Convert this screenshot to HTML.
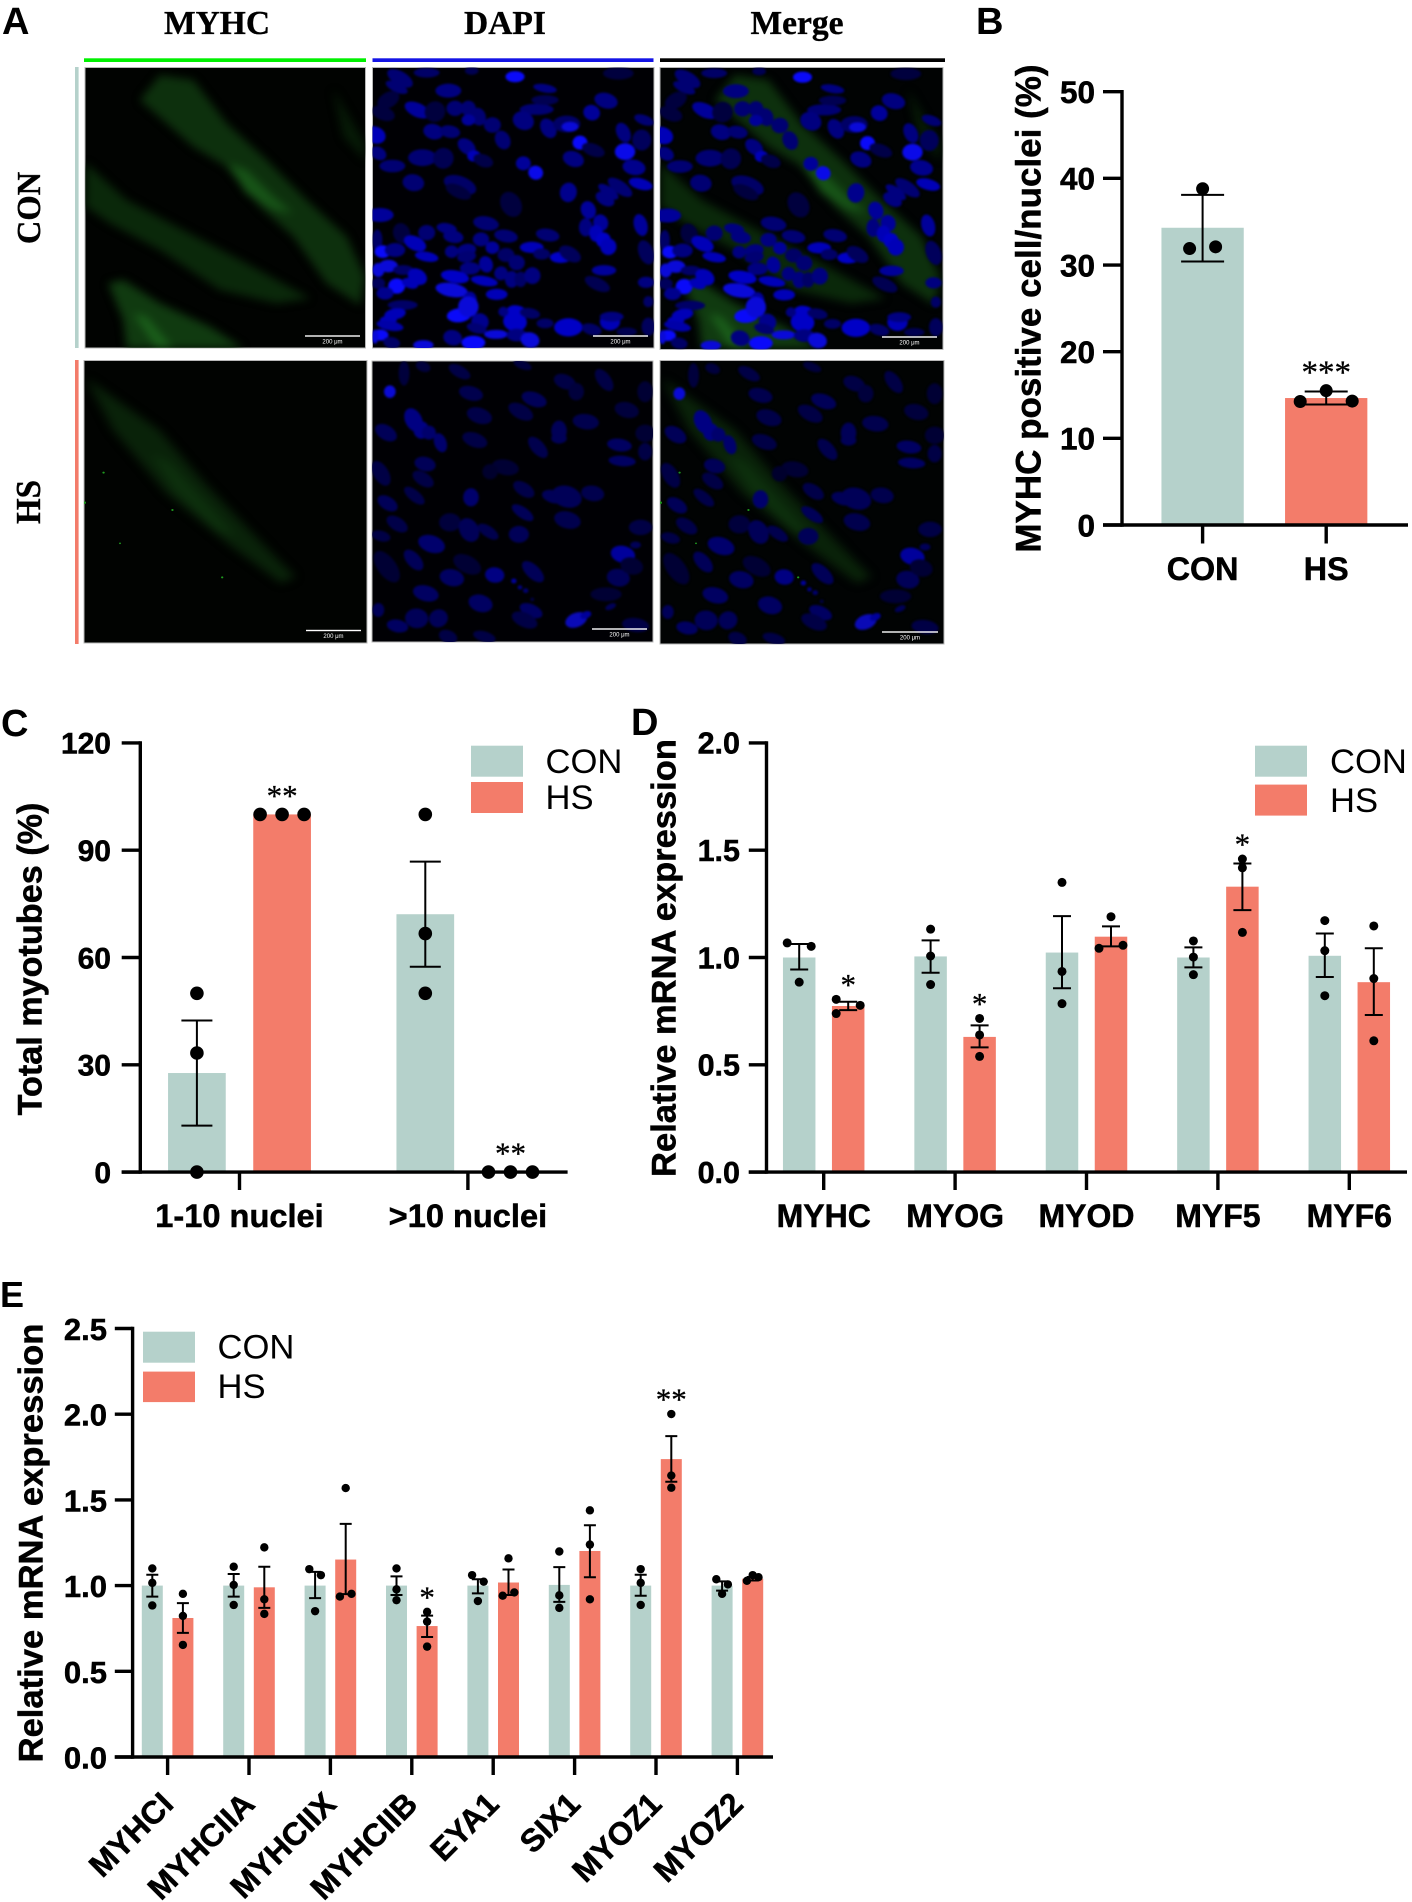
<!DOCTYPE html>
<html lang="en">
<head>
<meta charset="utf-8">
<title>MYHC figure</title>
<style>
html,body{margin:0;padding:0;background:#fff;}
svg{display:block;}
text{font-family:"Liberation Sans",Arial,sans-serif;fill:#000;}
.serif{font-family:"Liberation Serif","Times New Roman",serif;font-weight:bold;stroke:#000;stroke-width:.35px;}
.letter{font-weight:bold;font-size:38px;}
.legend{font-size:34.6px;}
.title{font-weight:bold;font-size:34.3px;stroke:#000;stroke-width:.5px;}
text[font-weight="bold"]{stroke:#000;stroke-width:.5px;}
.scale{font-size:6px;fill:#fff;font-family:"Liberation Sans","DejaVu Sans",sans-serif;}
</style>
</head>
<body>
<svg id="fig" xmlns="http://www.w3.org/2000/svg" width="1412" height="1902" viewBox="0 0 1412 1902">
<defs>
<filter id="soft" x="-5%" y="-5%" width="110%" height="110%" color-interpolation-filters="sRGB"><feGaussianBlur stdDeviation="3"/></filter>
<filter id="glow" x="-20%" y="-20%" width="140%" height="140%" color-interpolation-filters="sRGB"><feGaussianBlur stdDeviation="13"/></filter>
<clipPath id="clip-a1"><rect x="85" y="67.5" width="280.5" height="280.5"/></clipPath>
<clipPath id="clip-a2"><rect x="372.5" y="67.5" width="281.5" height="280.5"/></clipPath>
<clipPath id="clip-a3"><rect x="660" y="67.5" width="283" height="282"/></clipPath>
<clipPath id="clip-a4"><rect x="84" y="360.5" width="283" height="282.5"/></clipPath>
<clipPath id="clip-a5"><rect x="372" y="361" width="281" height="281"/></clipPath>
<clipPath id="clip-a6"><rect x="660" y="360.5" width="284" height="283.5"/></clipPath>
<g id="fibers-con" transform="translate(60,50) scale(0.33333)">
<g filter="url(#glow)">
<polygon fill="#0d300d" points="240,150 300,75 400,90 500,220 620,330 740,450 860,560 915,680 900,765 800,700 700,560 600,470 500,350 400,290"/>
<polygon fill="#0a280a" points="78,340 200,450 350,530 560,640 750,745 650,760 480,720 300,600 150,520 78,470"/>
<polygon fill="#103a10" points="145,700 190,690 300,760 450,830 550,895 200,895 190,810"/>
<polygon fill="#061a06" points="820,120 915,280 915,330 850,260"/>
<polygon fill="#175417" points="500,340 560,360 640,440 700,490 640,480 560,430"/>
<polygon fill="#1a5e1a" points="220,790 260,800 340,895 290,895"/>
</g>
</g>
<g id="fibers-hs" transform="translate(360,350) scale(0.38270,0.33333)">
<g filter="url(#glow)">
<polygon fill="#092209" points="790,85 870,150 980,240 1100,400 1250,580 1335,680 1300,700 1170,590 1000,430 860,240"/>
<polygon fill="#0d300d" points="960,310 1010,340 1120,480 1180,560 1130,540 1020,420"/>
</g>
<g fill="#1f9a1f">
<circle cx="835" cy="368" r="3"/><circle cx="1015" cy="480" r="3"/><circle cx="1145" cy="682" r="3"/><circle cx="785" cy="458" r="4"/><circle cx="878" cy="580" r="2.5"/>
</g>
</g>
<g id="dapi-con" transform="translate(360,50) scale(0.33333)"></g>
<g id="dapi-hs" transform="translate(360,350) scale(0.38270,0.33333)"></g>
</defs>

<rect width="1412" height="1902" fill="#fff"/>

<!-- Panel letters -->
<text class="letter" x="2" y="34">A</text>
<text class="letter" x="976" y="34">B</text>
<text class="letter" x="1" y="736">C</text>
<text class="letter" x="631" y="735">D</text>
<text class="letter" x="0" y="1307" style="font-size:36px">E</text>

<!-- Panel A -->
<g>
<text class="serif" x="217" y="34" font-size="33.5" text-anchor="middle">MYHC</text>
<text class="serif" x="505" y="34" font-size="33.5" text-anchor="middle">DAPI</text>
<text class="serif" x="797" y="34" font-size="33.5" text-anchor="middle">Merge</text>
<rect x="84" y="58.3" width="282" height="3.7" fill="#00f000"/>
<rect x="372.5" y="58.3" width="281" height="3.7" fill="#1414e6"/>
<rect x="660" y="58.3" width="285" height="3.7" fill="#000"/>
<rect x="75" y="67" width="3.6" height="281" fill="#b5d1cb"/>
<rect x="75" y="360" width="3.6" height="284" fill="#f37c6a"/>
<text class="serif" transform="translate(40,208) rotate(-90) scale(1,1.05)" font-size="32.5" text-anchor="middle">CON</text>
<text class="serif" transform="translate(40,502) rotate(-90) scale(1,1.05)" font-size="33" text-anchor="middle">HS</text>

<g>
<rect x="85" y="67.5" width="280.5" height="280.5" fill="#010301" stroke="#b8b8b8" stroke-width="1"/>
<g clip-path="url(#clip-a1)"><use href="#fibers-con"/></g>
<rect x="305" y="335.3" width="55" height="1.4" fill="#fff"/>
<text class="scale" x="332.5" y="343.5" text-anchor="middle">200 μm</text>
</g>
<g>
<rect x="372.5" y="67.5" width="281.5" height="280.5" fill="#000004" stroke="#b8b8b8" stroke-width="1"/>
<g clip-path="url(#clip-a2)"><use href="#dapi-con"/></g>
<rect x="593" y="335.3" width="55" height="1.4" fill="#fff"/>
<text class="scale" x="620.5" y="343.5" text-anchor="middle">200 μm</text>
</g>
<g>
<rect x="660" y="67.5" width="283" height="282" fill="#010303" stroke="#b8b8b8" stroke-width="1"/>
<g clip-path="url(#clip-a3)">
<use href="#fibers-con" transform="translate(575,0)"/>
<use href="#dapi-con" transform="translate(287.5,0.5)"/>
</g>
<rect x="882" y="336.3" width="55" height="1.4" fill="#fff"/>
<text class="scale" x="909.5" y="344.5" text-anchor="middle">200 μm</text>
</g>
<g>
<rect x="84" y="360.5" width="283" height="282.5" fill="#010301" stroke="#b8b8b8" stroke-width="1"/>
<g clip-path="url(#clip-a4)"><use href="#fibers-hs" transform="translate(-576,0)"/></g>
<rect x="306" y="629.8" width="55" height="1.4" fill="#fff"/>
<text class="scale" x="333.5" y="638" text-anchor="middle">200 μm</text>
</g>
<g>
<rect x="372" y="361" width="281" height="281" fill="#000004" stroke="#b8b8b8" stroke-width="1"/>
<g clip-path="url(#clip-a5)"><use href="#dapi-hs"/></g>
<rect x="592" y="628.3" width="55" height="1.4" fill="#fff"/>
<text class="scale" x="619.5" y="636.5" text-anchor="middle">200 μm</text>
</g>
<g>
<rect x="660" y="360.5" width="284" height="283.5" fill="#010303" stroke="#b8b8b8" stroke-width="1"/>
<g clip-path="url(#clip-a6)">
<use href="#fibers-hs"/>
<use href="#dapi-hs" transform="translate(289.5,2)"/>
</g>
<rect x="882" y="631.3" width="56" height="1.4" fill="#fff"/>
<text class="scale" x="910" y="639.5" text-anchor="middle">200 μm</text>
</g>
</g>

<!-- Axis titles -->
<text class="title" transform="translate(1040.7,308.6) rotate(-90)" text-anchor="middle" style="font-size:35px">MYHC positive cell/nuclei (%)</text>
<text class="title" transform="translate(41.5,959) rotate(-90)" text-anchor="middle" style="font-size:34.2px">Total myotubes (%)</text>
<text class="title" transform="translate(675.5,958) rotate(-90)" text-anchor="middle" style="font-size:34.5px">Relative mRNA expression</text>
<text class="title" transform="translate(42.4,1543) rotate(-90)" text-anchor="middle" style="font-size:34.6px">Relative mRNA expression</text>

<!-- Legends -->
<g>
<rect x="471" y="745.7" width="52" height="31" fill="#b5d1cb"/>
<rect x="471" y="782" width="52" height="31" fill="#f37c6a"/>
<text class="legend" x="545.5" y="773">CON</text>
<text class="legend" x="545.5" y="809">HS</text>
</g>
<g>
<rect x="1255" y="745.7" width="52" height="31" fill="#b5d1cb"/>
<rect x="1255" y="784.6" width="52" height="31" fill="#f37c6a"/>
<text class="legend" x="1330" y="773">CON</text>
<text class="legend" x="1330" y="812">HS</text>
</g>
<g>
<rect x="143" y="1331.7" width="52" height="31" fill="#b5d1cb"/>
<rect x="143" y="1371.6" width="52" height="30.5" fill="#f37c6a"/>
<text class="legend" x="217.5" y="1358.7">CON</text>
<text class="legend" x="217.5" y="1398">HS</text>
</g>

<g id="charts"></g>
</svg>

<script>
/* ---------- Panel B data ---------- */
const bCategories = ['CON', 'HS'];
const bYTicks = [0, 10, 20, 30, 40, 50];
const bYLabels = ['0', '10', '20', '30', '40', '50'];
const bValues = [34.3, 14.65];
const bErrHigh = [38.1, 15.4];
const bErrLow = [30.4, 13.9];
const bPoints = [[38.8, 31.9, 32.1], [14.25, 15.5, 14.3]];
const bStars = ['', '***'];

/* ---------- Panel C data ---------- */
const cCategories = ['1-10 nuclei', '>10 nuclei'];
const cYTicks = [0, 30, 60, 90, 120];
const cYLabels = ['0', '30', '60', '90', '120'];
const cConValues = [27.7, 72.1];
const cHsValues = [100, 0];
const cConErrHigh = [42.4, 86.8];
const cConErrLow = [13.0, 57.4];
const cConPoints = [[50, 33.3, 0], [100, 66.7, 50]];
const cHsPoints = [[100, 100, 100], [0, 0, 0]];
const cHsStars = ['**', '**'];

/* ---------- Panel D data ---------- */
const dCategories = ['MYHC', 'MYOG', 'MYOD', 'MYF5', 'MYF6'];
const dYTicks = [0, 0.5, 1, 1.5, 2];
const dYLabels = ['0.0', '0.5', '1.0', '1.5', '2.0'];
const dConValues = [1.0, 1.005, 1.023, 1.0, 1.008];
const dHsValues = [0.774, 0.63, 1.097, 1.33, 0.885];
const dConErrHigh = [1.063, 1.08, 1.193, 1.047, 1.112];
const dConErrLow = [0.944, 0.929, 0.857, 0.954, 0.909];
const dHsErrHigh = [0.794, 0.684, 1.145, 1.438, 1.043];
const dHsErrLow = [0.755, 0.581, 1.052, 1.221, 0.732];
const dConPoints = [[1.068, 1.052, 0.885], [1.132, 1.007, 0.874], [1.35, 0.935, 0.785], [1.077, 1.002, 0.92], [1.172, 1.032, 0.822]];
const dHsPoints = [[0.805, 0.777, 0.739], [0.716, 0.639, 0.539], [1.19, 1.043, 1.057], [1.459, 1.418, 1.117], [1.147, 0.902, 0.612]];
const dHsStars = ['*', '*', '', '*', ''];

/* ---------- Panel E data ---------- */
const eCategories = ['MYHCI', 'MYHCIIA', 'MYHCIIX', 'MYHCIIB', 'EYA1', 'SIX1', 'MYOZ1', 'MYOZ2'];
const eYTicks = [0, 0.5, 1, 1.5, 2, 2.5];
const eYLabels = ['0.0', '0.5', '1.0', '1.5', '2.0', '2.5'];
const eConValues = [1.0, 1.0, 1.0, 1.0, 1.0, 1.004, 1.0, 1.0];
const eHsValues = [0.811, 0.99, 1.152, 0.764, 1.018, 1.202, 1.738, 1.04];
const eConErrHigh = [1.063, 1.068, 1.08, 1.054, 1.037, 1.108, 1.063, 1.025];
const eConErrLow = [0.936, 0.936, 0.927, 0.945, 0.955, 0.905, 0.941, 0.971];
const eHsErrHigh = [0.898, 1.11, 1.36, 0.825, 1.094, 1.352, 1.872, 1.05];
const eHsErrLow = [0.724, 0.87, 0.95, 0.70, 0.945, 1.049, 1.606, 1.03];
const eConPoints = [[1.10, 1.016, 0.884], [1.11, 1.004, 0.887], [1.096, 1.061, 0.851], [1.10, 0.978, 0.915], [1.061, 1.023, 0.91], [1.199, 0.943, 0.87], [1.096, 1.016, 0.887], [1.037, 1.007, 0.952]];
const eHsPoints = [[0.952, 0.823, 0.654], [1.223, 0.92, 0.835], [1.569, 0.936, 0.952], [0.847, 0.79, 0.644], [1.159, 0.941, 0.96], [1.439, 1.239, 0.92], [2.001, 1.642, 1.571], [1.028, 1.061, 1.049]];
const eHsStars = ['', '', '', '*', '', '', '**', ''];

/* ---------- Microscopy nuclei (cx, cy, rx, ry, angle, brightness) ---------- */
const nucleiCon = [
[120,85,42,20,30,.55],[110,112,35,14,25,.55],[200,68,38,14,0,.5],[335,62,20,12,0,.4],[465,80,28,16,0,1],[265,122,38,20,0,.6],[85,150,35,22,-30,.3],[172,180,40,20,25,.7],[225,185,30,30,40,.3],[285,175,25,22,0,.55],[325,175,22,22,0,.55],[355,200,22,26,-20,.55],[325,210,20,16,0,.7],[397,225,25,22,0,.55],[70,190,35,20,20,.3],[45,255,32,24,20,.8],[55,310,25,18,30,.6],[220,245,30,22,15,.6],[270,245,30,18,10,.55],[320,290,30,20,40,.6],[342,318,20,16,0,.8],[370,332,30,18,20,.35],[428,270,22,28,-25,.55],[187,323,42,24,0,.55],[250,325,30,30,30,.4],[97,348,38,18,0,.55],[160,398,32,24,10,.55],[490,340,22,20,0,.7],[527,368,22,20,20,.95],
[775,70,45,18,0,.3],[738,152,35,22,15,.6],[695,188,25,22,25,.7],[555,115,35,12,10,.6],[530,178,50,16,0,.55],[555,150,40,14,0,.4],[490,212,32,26,25,.6],[565,235,22,30,-30,.6],[620,222,40,24,0,.5],[630,230,25,14,0,.9],[660,278,22,20,0,1],[700,300,35,18,20,.35],[640,327,32,22,20,.6],[852,210,30,14,20,.55],[790,248,20,30,-25,.6],[845,270,28,30,0,.45],[795,305,30,24,0,.95],[822,352,34,22,10,.65],[842,402,36,16,15,.8],[780,412,42,18,35,.55],[745,425,35,14,35,.6],[735,447,30,18,30,.6],[625,427,25,28,10,.65],
[300,405,50,25,20,.5],[295,425,40,18,25,.3],[453,463,30,38,-30,.3],[60,495,40,20,0,.7],[378,520,38,20,10,.55],[685,480,22,26,-20,.7],[722,518,22,24,-20,.7],[677,532,20,26,0,.6],[842,525,20,32,-15,.7],[260,535,30,15,10,.6],[280,560,30,18,10,.6],[200,548,25,22,0,.55],[125,550,25,30,-20,.3],[363,568,24,20,0,.6],[438,558,35,18,10,.55],[563,555,35,18,10,.55],[708,550,20,24,0,.8],[730,570,22,22,0,.85],[745,590,24,24,0,.8],[858,607,22,36,-20,.45],[165,580,35,20,25,.8],[52,570,15,30,0,.5],[68,605,24,18,0,1],[105,600,30,20,0,.6],[275,605,20,18,0,.6],[320,600,28,18,-10,.6],[320,620,28,16,-10,.55],[397,593,20,18,0,.7],[515,592,35,16,0,.8],[545,612,25,16,0,.5],[200,620,35,14,10,.8],[602,622,32,16,0,.85],[630,612,35,20,30,.45],[438,615,25,20,0,.5],[470,638,24,22,0,.55],[378,643,20,24,-20,.7],[330,655,30,18,0,.6],[55,660,18,20,0,.9],[85,648,28,18,0,.9],[130,660,30,14,0,.5],[732,661,36,15,0,.7],[423,670,20,20,20,.6],[455,688,20,24,0,.6],[482,688,18,22,0,.5],[517,677,24,24,0,.6],[285,680,42,18,10,.85],[373,693,40,14,10,.8],[172,680,30,22,30,.8],[110,708,25,22,0,1],[150,700,25,14,20,.8],[712,702,40,18,25,.4],[55,700,20,16,0,.45],[75,730,25,18,0,.65],[858,697,24,16,0,.6],[275,720,48,20,10,.9],[410,733,32,16,0,.8],[330,750,20,24,0,.7],[128,765,44,14,0,.5],[105,792,32,16,-10,.8],[85,810,25,12,0,.8],[90,827,40,14,10,.75],[297,796,36,20,-5,1],[325,770,30,30,0,.9],[360,815,26,24,25,.65],[465,815,35,28,10,.85],[470,785,30,18,10,.85],[510,790,30,15,10,.5],[430,785,15,14,0,.6],[625,832,42,26,0,.85],[555,820,25,14,0,.5],[695,838,30,16,15,.5],[750,815,30,25,0,.8],[755,800,35,14,0,.6],[800,845,30,12,0,.4],[865,830,20,26,0,.45],[865,755,15,16,0,.5],[350,835,30,14,15,.55],[278,863,28,22,15,.6],[408,853,35,13,0,.9],[470,855,30,18,0,.6],[510,870,28,22,15,.9],[60,855,25,16,0,1],[45,860,10,20,0,.9],[95,878,25,16,10,.5],[190,885,30,14,0,.9],[340,878,35,20,0,1]
];
const nucleiHs = [
[115,70,14,35,0,.35],[165,50,20,14,30,.35],[260,65,32,16,35,.4],[290,130,32,20,20,.45],[425,45,25,12,25,.35],[78,125,15,18,0,1],[455,148,34,20,25,.5],[420,185,36,20,35,.4],[312,197,34,22,25,.42],[68,248,32,20,40,.5],[140,210,22,35,-20,.7],[160,240,20,25,0,.7],[180,248,18,20,0,.6],[210,278,16,28,-15,.6],[300,270,34,20,25,.4],[465,292,18,35,-35,.45],[520,243,20,30,0,.5],[520,265,20,15,0,.5],[590,215,34,22,10,.45],[535,95,30,20,30,.4],[565,125,20,25,0,.35],[638,90,18,35,-30,.4],[697,180,32,22,20,.35],[678,285,32,18,10,.55],[685,333,35,15,5,.55],[745,125,20,30,0,.3],[745,250,25,25,0,.3],[745,305,18,25,0,.4],[170,342,28,20,20,.5],[55,370,20,38,-25,.4],[165,387,32,18,40,.4],[380,352,35,22,15,.3],[340,365,20,22,0,.25],[428,418,32,18,40,.42],[142,437,34,15,45,.42],[290,442,20,26,0,.6],[72,460,30,18,40,.5],[505,440,30,18,20,.5],[540,440,40,30,25,.5],[608,430,30,22,15,.45],[425,488,34,15,40,.5],[97,522,32,18,40,.42],[542,510,35,24,20,.45],[235,517,28,26,0,.35],[285,540,25,35,-20,.5],[335,545,32,15,40,.45],[415,553,26,24,0,.5],[55,558,25,15,20,.4],[733,532,30,22,0,.4],[187,582,36,24,25,.6],[140,630,35,18,55,.5],[280,643,40,24,35,.3],[70,650,25,50,-30,.3],[452,665,38,18,50,.5],[352,675,25,22,20,.7],[240,683,32,24,20,.55],[687,613,32,24,20,.8],[675,683,30,25,20,.5],[710,648,30,24,25,.3],[643,733,40,20,0,.3],[172,730,34,22,20,.55],[315,760,32,24,25,.55],[148,805,30,28,25,.5],[205,805,24,26,15,.5],[447,782,32,18,30,.55],[430,810,36,20,30,.4],[98,828,28,18,15,.55],[325,860,30,15,20,.4],[230,860,25,18,30,.4],[720,825,35,20,10,.4],[48,780,15,20,0,.5],[565,810,30,20,-30,.9],[590,795,15,10,-30,.8],[402,693,7,7,0,.8],[418,712,6,6,0,.7],[433,722,7,7,0,.6],[450,748,5,5,0,.4],[655,770,15,8,-30,.5],[720,585,14,10,0,.5]
];

const SVGNS = 'http://www.w3.org/2000/svg';
const TEAL = '#b5d1cb';
const SALMON = '#f37c6a';

function make(tag, attrs, parent, content) {
  const node = document.createElementNS(SVGNS, tag);
  for (const k in attrs) node.setAttribute(k, attrs[k]);
  if (content !== undefined) node.textContent = content;
  parent.appendChild(node);
  return node;
}

function drawNuclei(list, holderId, gain) {
  const holder = document.getElementById(holderId);
  const wrap = make('g', { filter: 'url(#soft)' }, holder);
  list.forEach(function (n) {
    const b = n[5];
    const hot = b > 0.85 ? 10 : 0;
    const col = 'rgb(' + hot + ',' + hot + ',' + Math.round(Math.min(255, (20 + 235 * b * b * 0.55 + 100 * b) * gain)) + ')';
    const nucleus = make('ellipse', {
      cx: n[0], cy: n[1], rx: n[2] * 1.02, ry: n[3] * 1.05, fill: col,
      transform: 'rotate(' + n[4] + ' ' + n[0] + ' ' + n[1] + ')'
    }, wrap);
    
    
  });
}
drawNuclei(nucleiCon, 'dapi-con', 1);
drawNuclei(nucleiHs, 'dapi-hs', 0.85);

/* Horizontal slot of each replicate dot: dots that would overlap are spread sideways */
function dotSlots(values, pxPerUnit, thresh, tightGain) {
  const order = values.map(function (v, i) { return i; }).sort(function (a, b) { return values[b] - values[a]; });
  const slots = values.map(function () { return 0; });
  let start = 0;
  for (let k = 1; k <= order.length; k++) {
    const split = k === order.length || (values[order[k - 1]] - values[order[k]]) * pxPerUnit >= thresh;
    if (!split) continue;
    const cluster = order.slice(start, k);
    if (cluster.length === 2) {
      slots[Math.min(cluster[0], cluster[1])] = -1;
      slots[Math.max(cluster[0], cluster[1])] = 1;
    } else if (cluster.length === 3) {
      const span = (values[cluster[0]] - values[cluster[2]]) * pxPerUnit;
      if (span < thresh) {
        slots[0] = -tightGain; slots[1] = 0; slots[2] = tightGain;
      } else {
        slots[cluster[0]] = -1; slots[cluster[1]] = 1; slots[cluster[2]] = -1;
      }
    }
    start = k;
  }
  return slots;
}

function drawPanel(p) {
  const root = document.getElementById('charts');
  const g = make('g', {}, root);
  
  

  const pxPerUnit = (p.yZero - p.yTop) / p.yMax;
  const yAt = function (v) { return p.yZero - v * pxPerUnit; };
  const xAt = function (c, s) { return p.firstX + c * p.step + p.offsets[s]; };

  p.series.forEach(function (s, si) {
    p.categories.forEach(function (cat, ci) {
      const v = s.values[ci];
      const bar = make('rect', {
        x: xAt(ci, si) - p.barW / 2, y: yAt(v), width: p.barW,
        height: Math.max(0, yAt(0) - yAt(v)), fill: s.colors[ci]
      }, g);
      
      
    });
  });

  p.series.forEach(function (s, si) {
    p.categories.forEach(function (cat, ci) {
      const cx = xAt(ci, si);
      if (s.hi && s.lo) {
        const yh = yAt(s.hi[ci]);
        const yl = yAt(s.lo[ci]);
        const err = make('path', {
          d: 'M' + cx + ' ' + yh + 'V' + yl +
             'M' + (cx - p.cap / 2) + ' ' + yh + 'H' + (cx + p.cap / 2) +
             'M' + (cx - p.cap / 2) + ' ' + yl + 'H' + (cx + p.cap / 2),
          fill: 'none', stroke: '#000', 'stroke-width': p.errW
        }, g);
        
        
      }
      const vals = s.points[ci];
      const slots = dotSlots(vals, pxPerUnit, p.dotR * 2 - 0.5, p.tightGain);
      vals.forEach(function (pv, pi) {
        const dot = make('circle', { cx: cx + slots[pi] * p.spread, cy: yAt(pv), r: p.dotR, fill: '#000' }, g);
        
        
      });
      if (s.stars && s.stars[ci]) {
        const star = make('text', {
          x: cx, y: yAt(Math.max.apply(null, vals)) - p.starGap + p.starSize * 0.47,
          'text-anchor': 'middle', 'font-size': p.starSize
        }, g, s.stars[ci]);
        star.style.fontFamily = '"Liberation Serif",serif';
        star.style.stroke = '#000';
        star.style.strokeWidth = '0.3px';
        
        
      }
    });
  });

  /* axes */
  const axisW = 3.4;
  const yAxis = make('line', { x1: p.axisX, x2: p.axisX, y1: p.yTop - axisW / 2, y2: p.yZero + axisW / 2, stroke: '#000', 'stroke-width': axisW }, g);
  
  
  const xAxis = make('line', { x1: p.tickLeft, x2: p.axisRight, y1: p.yZero, y2: p.yZero, stroke: '#000', 'stroke-width': axisW }, g);
  
  

  p.yTicks.forEach(function (t, i) {
    const tick = make('line', { x1: p.tickLeft, x2: p.axisX, y1: yAt(t), y2: yAt(t), stroke: '#000', 'stroke-width': axisW }, g);
    
    
    const lab = make('text', {
      x: p.yLabelRight, y: yAt(t) + p.yLabelDrop, 'text-anchor': 'end',
      'font-size': p.yLabelSize, 'font-weight': 'bold'
    }, g, p.yLabels[i]);
    
    
  });

  p.categories.forEach(function (cat, ci) {
    const tx = p.firstX + ci * p.step;
    const tick = make('line', { x1: tx, x2: tx, y1: p.yZero, y2: p.tickBottom, stroke: '#000', 'stroke-width': axisW }, g);
    
    
    const attrs = { 'font-size': p.catSize, 'font-weight': 'bold' };
    if (p.catRotate) {
      attrs['text-anchor'] = 'end';
      attrs.transform = 'translate(' + (tx + p.catDx) + ',' + p.catY + ') rotate(' + p.catRotate + ')';
    } else {
      attrs['text-anchor'] = 'middle';
      attrs.x = tx;
      attrs.y = p.catY;
    }
    const lab = make('text', attrs, g, cat);
    
    
  });
}

drawPanel({
  name: 'b', categories: bCategories, yTicks: bYTicks, yLabels: bYLabels, yMax: 50,
  yTop: 91.7, yZero: 525, axisX: 1122, tickLeft: 1103, axisRight: 1408, tickBottom: 543.5,
  firstX: 1202.6, step: 123.6, offsets: [0], barW: 82.3, cap: 43, errW: 2, dotR: 6.5, spread: 13, tightGain: 2,
  starGap: 23, starSize: 33, yLabelRight: 1095, yLabelDrop: 11.3, yLabelSize: 31.5, catSize: 32.3, catY: 580,
  series: [{ key: 'group', colors: [TEAL, SALMON], values: bValues, hi: bErrHigh, lo: bErrLow, points: bPoints, stars: bStars }]
});
drawPanel({
  name: 'c', categories: cCategories, yTicks: cYTicks, yLabels: cYLabels, yMax: 120,
  yTop: 742.9, yZero: 1172.1, axisX: 140.3, tickLeft: 121.7, axisRight: 567.6, tickBottom: 1190,
  firstX: 239.5, step: 228.4, offsets: [-42.6, 42.6], barW: 57.7, cap: 31, errW: 2, dotR: 6.8, spread: 22, tightGain: 1,
  starGap: 23, starSize: 31, yLabelRight: 111, yLabelDrop: 10.8, yLabelSize: 30, catSize: 32.6, catY: 1226.8,
  series: [
    { key: 'con', colors: [TEAL, TEAL], values: cConValues, hi: cConErrHigh, lo: cConErrLow, points: cConPoints },
    { key: 'hs', colors: [SALMON, SALMON], values: cHsValues, points: cHsPoints, stars: cHsStars }
  ]
});
drawPanel({
  name: 'd', categories: dCategories, yTicks: dYTicks, yLabels: dYLabels, yMax: 2,
  yTop: 742.9, yZero: 1172.1, axisX: 766.5, tickLeft: 748.8, axisRight: 1407, tickBottom: 1190,
  firstX: 823.7, step: 131.4, offsets: [-24.5, 24.5], barW: 32.5, cap: 18, errW: 2, dotR: 4.5, spread: 12, tightGain: 1,
  starGap: 19, starSize: 31, yLabelRight: 740, yLabelDrop: 10.8, yLabelSize: 30.5, catSize: 32, catY: 1226.8,
  series: [
    { key: 'con', colors: dCategories.map(function () { return TEAL; }), values: dConValues, hi: dConErrHigh, lo: dConErrLow, points: dConPoints },
    { key: 'hs', colors: dCategories.map(function () { return SALMON; }), values: dHsValues, hi: dHsErrHigh, lo: dHsErrLow, points: dHsPoints, stars: dHsStars }
  ]
});
drawPanel({
  name: 'e', categories: eCategories, yTicks: eYTicks, yLabels: eYLabels, yMax: 2.5,
  yTop: 1328.5, yZero: 1757, axisX: 132.6, tickLeft: 114.8, axisRight: 773, tickBottom: 1775,
  firstX: 167.6, step: 81.4, offsets: [-15.3, 15.3], barW: 21, cap: 12, errW: 2, dotR: 4.2, spread: 5.8, tightGain: 1,
  starGap: 19, starSize: 31, yLabelRight: 107, yLabelDrop: 11.5, yLabelSize: 31, catSize: 32, catY: 1806, catDx: 7.5, catRotate: -45,
  series: [
    { key: 'con', colors: eCategories.map(function () { return TEAL; }), values: eConValues, hi: eConErrHigh, lo: eConErrLow, points: eConPoints },
    { key: 'hs', colors: eCategories.map(function () { return SALMON; }), values: eHsValues, hi: eHsErrHigh, lo: eHsErrLow, points: eHsPoints, stars: eHsStars }
  ]
});
</script>
</body>
</html>
